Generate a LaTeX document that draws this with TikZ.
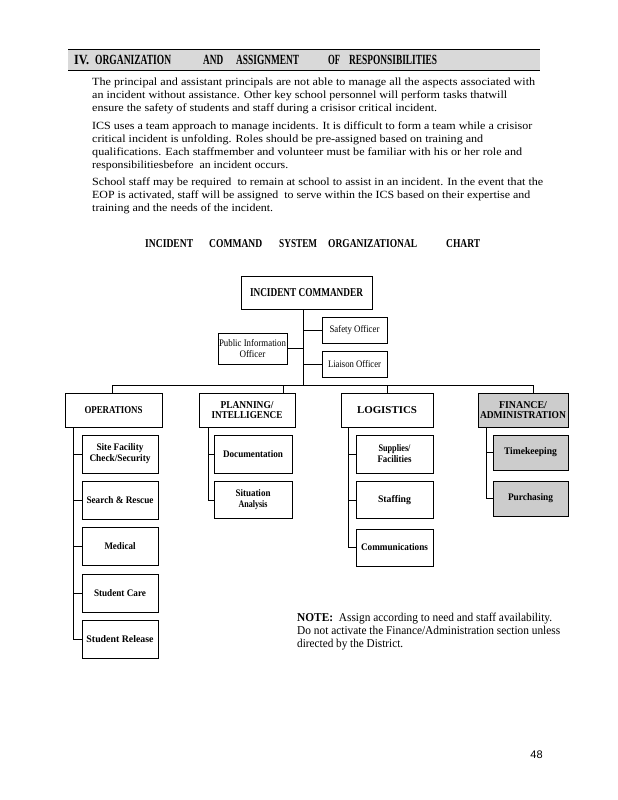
\documentclass[tikz,border=0pt]{standalone}
\usepackage{fontspec}
\setmainfont{Liberation Serif}
\newfontfamily\pgnumfont{Liberation Sans}
\usepackage{graphicx}
\newcommand{\fitw}[2]{\resizebox{#1}{\height}{#2}}
\tikzset{
  hdr/.style={font=\fontsize{14}{14}\selectfont\bfseries, inner sep=0pt, anchor=west},
  bodyline/.style={font=\fontsize{11}{13}\selectfont, inner sep=0pt, anchor=base west},
  ttl/.style={font=\fontsize{12}{12}\selectfont\bfseries, inner sep=0pt, anchor=west},
  noteline/.style={font=\fontsize{12}{13}\selectfont, inner sep=0pt, anchor=base west},
  cmdbox/.style={draw, line width=1pt, inner sep=0pt, align=center, font=\fontsize{12}{12}\selectfont\bfseries},
  staffbox/.style={draw, line width=1pt, inner sep=0pt, align=center, font=\fontsize{10}{11}\selectfont},
  sectbox/.style={draw, line width=1pt, inner sep=0pt, align=center, minimum height=34pt, font=\fontsize{10.5}{10.5}\selectfont\bfseries},
  subbox/.style={draw, line width=1pt, inner sep=0pt, align=center, font=\fontsize{10}{11}\selectfont\bfseries},
  greyfill/.style={fill=black!20},
  conn/.style={line width=1pt}
}
\begin{document}
\begin{tikzpicture}[x=1pt,y=-1pt]
\useasboundingbox (0,0) rectangle (618,800);
\fill[white] (0,0) rectangle (618,800);

% header band
\fill[black!15] (68,49) rectangle (540,70);
\draw[line width=0.8pt] (68,49) -- (540,49);
\draw[line width=0.8pt] (68,70) -- (540,70);
\node[hdr] (h1) at (74,60) {\fitw{15pt}{IV.}};
\node[hdr] (h2) at (95,60) {\fitw{76pt}{ORGANIZATION}};
\node[hdr] (h3) at (203,60) {\fitw{20pt}{AND}};
\node[hdr] (h4) at (236,60) {\fitw{63pt}{ASSIGNMENT}};
\node[hdr] (h5) at (328,60) {\fitw{12pt}{OF}};
\node[hdr] (h6) at (349,60) {\fitw{88pt}{RESPONSIBILITIES}};

% body text
\node[bodyline] (p1a) at (92,85) {\fitw{443pt}{The principal and assistant principals are not able to manage all the aspects associated with}};
\node[bodyline] (p1b) at (92,98) {\fitw{415pt}{an incident without assistance. Other key school personnel will perform tasks thatwill}};
\node[bodyline] (p1c) at (92,111) {\fitw{345pt}{ensure the safety of students and staff during a crisisor critical incident.}};
\node[bodyline] (p2a) at (92,129) {\fitw{440pt}{ICS uses a team approach to manage incidents. It is difficult to form a team while a crisisor}};
\node[bodyline] (p2b) at (92,142) {\fitw{391pt}{critical incident is unfolding. Roles should be pre-assigned based on training and}};
\node[bodyline] (p2c) at (92,155) {\fitw{430pt}{qualifications. Each staffmember and volunteer must be familiar with his or her role and}};
\node[bodyline] (p2d) at (92,168) {\fitw{196pt}{responsibilitiesbefore \ an incident occurs.}};
\node[bodyline] (p3a) at (92,185) {\fitw{451pt}{School staff may be required \ to remain at school to assist in an incident. In the event that the}};
\node[bodyline] (p3b) at (92,198) {\fitw{438pt}{EOP is activated, staff will be assigned \ to serve within the ICS based on their expertise and}};
\node[bodyline] (p3c) at (92,211) {\fitw{181pt}{training and the needs of the incident.}};

% chart title
\node[ttl] (t1) at (145,244) {\fitw{48pt}{INCIDENT}};
\node[ttl] (t2) at (209,244) {\fitw{53pt}{COMMAND}};
\node[ttl] (t3) at (279,244) {\fitw{38pt}{SYSTEM}};
\node[ttl] (t4) at (328,244) {\fitw{89pt}{ORGANIZATIONAL}};
\node[ttl] (t5) at (446,244) {\fitw{34pt}{CHART}};

% command staff
\node[cmdbox, minimum width=131pt, minimum height=33pt] (ic) at (306.5,292.5) {\fitw{113pt}{INCIDENT COMMANDER}};
\node[staffbox, minimum width=65pt, minimum height=26pt] (saf) at (354.5,330) {\fitw{50pt}{Safety Officer}};
\node[staffbox, minimum width=65pt, minimum height=26pt] (lia) at (354.5,364) {\fitw{53pt}{Liaison Officer}};
\node[staffbox, minimum width=69pt, minimum height=31pt] (pio) at (252.5,348.5) {\fitw{67pt}{Public Information}\\\fitw{26pt}{Officer}};

% sections
\node[sectbox, minimum width=97pt] (ops) at (113.5,410) {\fitw{58pt}{OPERATIONS}};
\node[sectbox, minimum width=96pt] (pln) at (247,410) {\fitw{53pt}{PLANNING/}\\\fitw{71pt}{INTELLIGENCE}};
\node[sectbox, minimum width=92pt] (lgs) at (387,410) {\fitw{60pt}{LOGISTICS}};
\node[sectbox, greyfill, minimum width=90pt] (fin) at (523,410) {\fitw{48pt}{FINANCE/}\\\fitw{86pt}{ADMINISTRATION}};

% operations units
\node[subbox, minimum width=76pt, minimum height=38pt] (sfc) at (120,454) {\fitw{47pt}{Site Facility}\\\fitw{61pt}{Check/Security}};
\node[subbox, minimum width=76pt, minimum height=38pt] (snr) at (120,500) {\fitw{67pt}{Search \& Rescue}};
\node[subbox, minimum width=76pt, minimum height=38pt] (med) at (120,546) {\fitw{31pt}{Medical}};
\node[subbox, minimum width=76pt, minimum height=38pt] (stc) at (120,593) {\fitw{52pt}{Student Care}};
\node[subbox, minimum width=76pt, minimum height=38pt] (str) at (120,639) {\fitw{67pt}{Student Release}};

% planning units
\node[subbox, minimum width=78pt, minimum height=38pt] (doc) at (253,454) {\fitw{60pt}{Documentation}};
\node[subbox, minimum width=78pt, minimum height=37pt] (sit) at (253,500) {\fitw{35pt}{Situation}\\\fitw{29pt}{Analysis}};

% logistics units
\node[subbox, minimum width=77pt, minimum height=38pt] (sup) at (394.5,454) {\fitw{32pt}{Supplies/}\\\fitw{34pt}{Facilities}};
\node[subbox, minimum width=77pt, minimum height=37pt] (stf) at (394.5,500) {\fitw{33pt}{Staffing}};
\node[subbox, minimum width=77pt, minimum height=37pt] (com) at (394.5,547.5) {\fitw{67pt}{Communications}};

% finance units
\node[subbox, greyfill, minimum width=75pt, minimum height=35pt] (tmk) at (530.5,452.5) {\fitw{53pt}{Timekeeping}};
\node[subbox, greyfill, minimum width=75pt, minimum height=35pt] (pur) at (530.5,498.5) {\fitw{45pt}{Purchasing}};

% command connectors
\coordinate (tr) at (303,385);
\draw[conn] (ic.south -| tr) -- (tr);
\draw[conn] (saf.west) -- (saf.west -| tr);
\draw[conn] (lia.west) -- (lia.west -| tr);
\draw[conn] (pio.east) -- (pio.east -| tr);

\coordinate (b1) at (112,385);
\coordinate (b2) at (283,385);
\coordinate (b3) at (387,385);
\coordinate (b4) at (533,385);
\draw[conn] (b1 |- ops.north) -- (b1) -- (b4) -- (b4 |- fin.north);
\draw[conn] (b2) -- (b2 |- pln.north);
\draw[conn] (b3) -- (b3 |- lgs.north);

% operations tree
\coordinate (oc) at (73,0);
\draw[conn] (ops.south -| oc) -- (oc |- str.west) -- (str.west);
\draw[conn] (sfc.west) -- (sfc.west -| oc);
\draw[conn] (snr.west) -- (snr.west -| oc);
\draw[conn] (med.west) -- (med.west -| oc);
\draw[conn] (stc.west) -- (stc.west -| oc);

% planning tree
\coordinate (pc) at (208,0);
\draw[conn] (pln.south -| pc) -- (pc |- sit.west) -- (sit.west);
\draw[conn] (doc.west) -- (doc.west -| pc);

% logistics tree
\coordinate (lc) at (348,0);
\draw[conn] (lgs.south -| lc) -- (lc |- com.west) -- (com.west);
\draw[conn] (sup.west) -- (sup.west -| lc);
\draw[conn] (stf.west) -- (stf.west -| lc);

% finance tree
\coordinate (fc) at (486,0);
\draw[conn] (fin.south -| fc) -- (fc |- pur.west) -- (pur.west);
\draw[conn] (tmk.west) -- (tmk.west -| fc);

% note
\node[noteline] (n1) at (297,621) {\fitw{255pt}{\textbf{NOTE:}\enspace Assign according to need and staff availability.}};
\node[noteline] (n2) at (297,634) {\fitw{263pt}{Do not activate the Finance/Administration section unless}};
\node[noteline] (n3) at (297,647) {\fitw{106pt}{directed by the District.}};

% page number
\node[font=\pgnumfont\fontsize{11}{11}\selectfont, inner sep=0pt] (pg) at (536.5,755) {48};
\end{tikzpicture}
\end{document}
